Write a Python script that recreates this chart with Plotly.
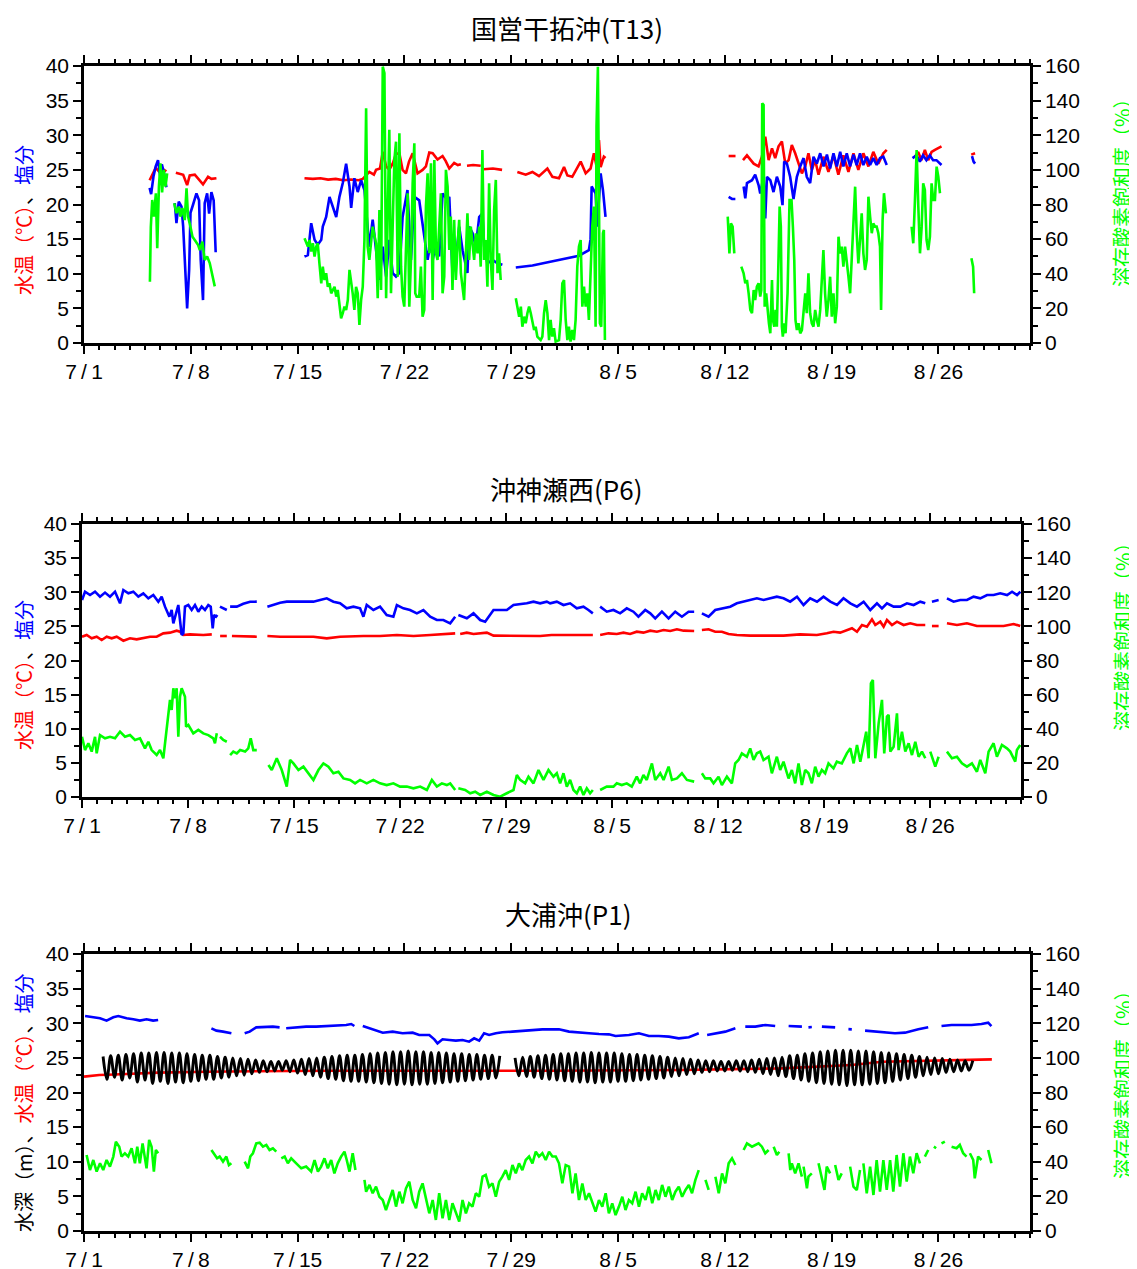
import plotly.graph_objects as go

# ---------------- data (x = days since 7/1) ----------------
week_ticks = [0, 7, 14, 21, 28, 35, 42, 49, 56]
week_labels = ["7\u2009/\u20091", "7\u2009/\u20098", "7\u2009/\u200915", "7\u2009/\u200922", "7\u2009/\u200929",
               "8\u2009/\u20095", "8\u2009/\u200912", "8\u2009/\u200919", "8\u2009/\u200926"]

# ---- 国営干拓沖(T13) ----
t13_temp = [(4.3,23.5),(4.5,24.5),(4.7,25.3),(4.9,24.8),(5.1,25.2),(5.4,24.8), None,
    (6.02,24.6),(6.5,24.3),(6.76,22.8),(6.93,24.2),(7.26,24.3),(7.6,23.5),(7.8,22.9),(8.13,24.0),(8.35,23.7),(8.68,23.8), None,
    (14.45,23.8),(15.0,23.7),(15.5,23.8),(16.0,23.6),(16.5,23.7),(17.0,23.5),(17.5,23.6),(18.0,23.5),(18.27,23.7),(18.5,24.2),
    (18.7,24.7),(19.0,24.3),(19.14,25.0),(19.4,25.2),(19.58,27.6),(19.8,25.5),(20.01,25.0),(20.25,26.0),(20.45,27.3),(20.67,27.4),
    (20.88,25.0),(21.1,24.5),(21.3,26.2),(21.54,27.4),(21.86,24.5),(22.19,25.0),(22.41,25.5),(22.63,27.5),(22.85,27.4),(23.17,26.5),
    (23.5,27.0),(23.7,26.3),(23.94,25.2),(24.26,26.0),(24.5,25.7),(24.7,25.8), None,
    (25.1,25.6),(25.5,25.7),(26.0,25.6), None, (26.2,25.1),(26.8,25.2),(27.4,25.0), None,
    (28.4,24.7),(28.95,24.3),(29.39,24.7),(29.82,24.1),(30.37,25.2),(30.7,24.0),(31.13,23.8),(31.46,25.4),(31.68,24.2),(32.0,24.0),
    (32.55,26.2),(32.88,24.5),(33.2,25.2),(33.42,27.4),(33.64,25.0),(33.75,29.3),(33.86,25.4),(34.07,26.9),(34.18,26.7), None,
    (42.25,27.0),(42.7,27.0), None,
    (43.19,26.4),(43.45,27.1),(43.89,25.9),(44.21,25.5),(44.43,26.9),(44.65,29.8),(44.87,26.4),(45.09,28.1),(45.3,26.7),(45.52,28.4),
    (45.74,29.1),(45.96,25.9),(46.18,26.4),(46.39,28.6),(46.61,27.4),(46.83,25.9),(47.05,24.5),(47.27,25.5),(47.48,27.4),(47.7,25.0),
    (47.92,26.4),(48.14,24.3),(48.46,26.9),(48.79,24.7),(49.12,27.1),(49.44,24.3),(49.77,27.1),(50.1,24.7),(50.43,27.4),(50.75,25.0),
    (51.08,27.4),(51.41,25.5),(51.73,27.6),(52.06,25.9),(52.39,27.4),(52.61,27.9), None,
    (54.46,26.9),(54.67,27.6),(54.89,26.4),(55.11,27.9),(55.33,26.4),(55.55,27.6),(55.77,27.9),(56.2,28.4), None,
    (58.15,27.2),(58.4,27.4)]

t13_sal = [(4.3,22.4),(4.4,21.5),(4.55,24.0),(4.7,25.5),(4.85,26.4),(5.0,24.0),(5.1,25.8),(5.25,24.5),(5.4,22.5), None,
    (5.95,20.2),(6.06,17.3),(6.21,20.4),(6.39,19.7),(6.5,16.8),(6.56,14.4),(6.76,5.0),(6.89,10.5),(6.98,18.8),(7.15,20.0),
    (7.37,21.6),(7.54,20.6),(7.65,12.0),(7.8,6.2),(7.91,20.2),(8.07,21.6),(8.2,18.7),(8.35,21.8),(8.5,20.6),(8.63,13.1), None,
    (14.45,12.5),(14.67,12.7),(14.89,17.3),(15.11,14.9),(15.32,14.2),(15.55,14.9),(15.65,16.8),(15.87,18.2),(16.09,21.1),(16.3,19.7),
    (16.53,18.2),(16.74,21.1),(16.96,23.1),(17.18,25.9),(17.4,22.6),(17.51,19.5),(17.72,23.8),(17.94,21.8),(18.16,23.5),(18.38,22.1),
    (18.59,16.8),(18.7,13.9),(18.92,17.8),(19.14,13.0),(19.36,9.1),(19.58,13.9),(19.8,9.6),(20.01,14.9),(20.23,10.1),(20.45,9.6),
    (20.67,10.1),(20.88,18.2),(21.2,22.1),(21.43,12.0),(21.65,21.1),(21.97,20.6),(22.19,17.3),(22.52,12.0),(22.74,14.9),(22.85,12.0),
    (23.07,14.4),(23.28,12.5),(23.5,21.6),(23.83,20.6),(23.94,21.1),(24.15,10.1),(24.38,12.0),(24.59,16.8),(24.81,13.4),(25.13,10.1),
    (25.24,16.8),(25.46,15.9),(25.68,13.9),(25.9,18.2),(26.11,18.7),(26.23,13.9),(26.44,11.5),(26.77,12.0),(27.1,11.5),(27.42,11.3), None,
    (28.3,10.9),(29.39,11.2),(30.48,11.7),(31.57,12.2),(32.44,12.6),(33.09,13.4),(33.2,15.0),(33.27,22.6),(33.53,21.6),(33.64,16.8),
    (33.86,24.5),(34.01,22.1),(34.18,18.2), None,
    (42.25,21.1),(42.47,20.8),(42.69,20.8), None,
    (43.23,22.6),(43.34,20.9),(43.45,23.1),(43.78,23.5),(43.99,24.3),(44.21,22.8),(44.32,21.6),(44.54,24.0),(44.65,18.0),(44.76,24.0),
    (44.98,23.5),(45.19,21.8),(45.41,24.0),(45.63,22.6),(45.78,19.9),(45.89,26.2),(46.07,25.9),(46.28,24.0),(46.5,20.8),(46.72,24.0),
    (46.94,25.5),(47.16,26.7),(47.37,24.0),(47.59,23.1),(47.81,26.9),(48.03,25.9),(48.25,27.4),(48.47,25.5),(48.69,27.2),(48.9,25.2),
    (49.12,27.4),(49.34,25.5),(49.56,27.6),(49.77,25.5),(49.99,27.4),(50.21,25.5),(50.43,27.2),(50.64,25.7),(50.86,27.4),(51.08,25.7),
    (51.3,26.9),(51.52,25.7),(51.73,26.7),(51.95,25.7),(52.17,26.7),(52.39,26.9),(52.61,25.7), None,
    (54.3,26.7),(54.56,27.1),(54.78,26.2),(54.99,27.1),(55.21,26.4),(55.43,27.1),(55.65,26.4),(55.87,26.4),(56.2,25.7), None,
    (58.2,27.0),(58.3,26.2),(58.4,25.9)]

t13_do = [(4.32,35.4),(4.38,67.0),(4.47,82.6),(4.58,73.0),(4.71,86.5),(4.8,54.7),(4.91,90.3),(5.01,103.8),(5.12,87.0),(5.23,100.0),(5.34,90.3),(5.45,98.0), None,
    (5.91,80.7),(6.06,75.0),(6.21,78.7),(6.32,73.0),(6.45,78.0),(6.6,71.0),(6.72,89.4),(6.82,73.0),(6.98,67.0),(7.11,61.4),
    (7.26,59.5),(7.48,56.6),(7.59,53.7),(7.76,58.5),(7.91,48.0),(8.07,50.0),(8.24,46.2),(8.39,40.3),(8.5,36.5),(8.57,32.7), None,
    (14.45,60.5),(14.56,58.5),(14.67,55.7),(14.78,59.5),(14.89,52.8),(15.0,57.6),(15.11,49.9),(15.22,55.7),(15.32,57.6),(15.43,46.0),
    (15.55,34.5),(15.65,44.1),(15.76,36.4),(15.87,40.3),(15.98,32.5),(16.09,34.5),(16.2,28.7),(16.42,32.5),(16.53,26.8),(16.63,30.6),
    (16.74,21.0),(16.85,14.3),(16.96,17.2),(17.07,21.0),(17.18,19.1),(17.29,24.8),(17.4,42.2),(17.51,36.4),(17.61,28.7),(17.72,19.1),
    (17.83,32.5),(17.94,28.7),(18.05,10.4),(18.16,24.8),(18.27,32.5),(18.38,59.5),(18.49,135.6),(18.59,55.7),(18.7,48.0),(18.92,67.2),
    (19.14,57.6),(19.25,25.8),(19.36,76.8),(19.47,30.6),(19.58,159.6),(19.69,155.8),(19.8,25.8),(20.01,123.1),(20.12,28.7),(20.34,105.7),
    (20.45,116.3),(20.56,38.3),(20.67,121.1),(20.78,44.1),(20.88,26.8),(20.99,21.0),(21.1,51.8),(21.21,86.5),(21.32,21.0),(21.43,48.0),
    (21.54,92.2),(21.65,115.4),(21.71,28.7),(21.8,26.8),(21.97,26.8),(22.08,44.1),(22.19,15.2),(22.3,19.1),(22.41,78.8),(22.52,98.0),
    (22.63,51.8),(22.74,103.8),(22.85,24.8),(22.96,105.7),(23.07,51.8),(23.17,48.0),(23.39,86.5),(23.5,28.7),(23.61,38.3),(23.72,100.0),
    (23.83,90.3),(23.94,53.7),(24.04,73.0),(24.15,30.6),(24.26,71.1),(24.37,36.4),(24.48,55.7),(24.59,71.1),(24.7,40.3),(24.91,24.8),
    (25.13,74.9),(25.24,48.0),(25.35,67.2),(25.46,55.7),(25.57,48.0),(25.68,63.4),(25.79,51.8),(25.9,67.2),(26.0,44.1),(26.11,111.5),
    (26.22,48.0),(26.33,59.5),(26.44,32.5),(26.55,92.2),(26.66,48.0),(26.77,30.6),(26.88,76.8),(26.99,94.2),(27.1,40.3),(27.2,51.8),(27.31,36.4), None,
    (28.3,25.8),(28.41,19.1),(28.52,15.2),(28.63,21.0),(28.73,9.4),(28.84,15.2),(28.95,11.4),(29.06,17.2),(29.17,21.0),(29.28,17.2),
    (29.39,11.4),(29.5,7.5),(29.6,9.4),(29.71,3.7),(29.93,1.7),(30.04,3.7),(30.15,17.2),(30.26,24.8),(30.37,17.2),(30.48,1.7),
    (30.58,13.3),(30.69,3.7),(30.8,8.5),(30.91,0.8),(31.13,1.7),(31.24,13.3),(31.35,34.5),(31.46,36.4),(31.57,13.3),(31.68,1.7),
    (31.78,9.4),(31.89,0.8),(32.0,7.5),(32.11,1.7),(32.22,13.3),(32.33,44.1),(32.44,55.7),(32.55,59.5),(32.66,21.0),(32.77,32.5),
    (32.88,21.0),(32.99,28.7),(33.09,13.3),(33.2,40.3),(33.31,67.2),(33.42,78.8),(33.53,9.4),(33.59,125.0),(33.68,159.6),(33.75,86.5),
    (33.81,11.4),(33.9,9.4),(34.01,63.4),(34.07,65.3),(34.14,1.7), None,
    (42.19,73.0),(42.3,51.8),(42.4,69.1),(42.51,67.2),(42.62,51.8), None,
    (43.08,44.1),(43.23,40.3),(43.34,34.5),(43.45,36.4),(43.56,28.7),(43.67,19.1),(43.78,17.2),(43.89,30.6),(43.99,24.8),(44.1,32.5),
    (44.21,34.5),(44.32,26.8),(44.39,30.6),(44.45,138.5),(44.54,137.5),(44.61,21.0),(44.71,28.7),(44.8,19.1),(44.89,11.4),(44.98,5.6),
    (45.09,36.4),(45.15,13.3),(45.24,9.4),(45.32,19.1),(45.41,9.4),(45.52,49.9),(45.59,78.8),(45.67,67.2),(45.74,9.4),(45.8,3.7),
    (45.89,11.4),(45.98,5.6),(46.11,28.7),(46.24,82.6),(46.37,82.6),(46.46,67.2),(46.55,48.0),(46.63,13.3),(46.72,7.5),(46.83,11.4),
    (46.94,5.6),(47.05,7.5),(47.16,17.2),(47.27,28.7),(47.37,17.2),(47.48,40.3),(47.59,17.2),(47.7,11.4),(47.81,9.4),(47.92,19.1),
    (48.03,13.3),(48.14,9.4),(48.25,19.1),(48.36,38.3),(48.46,53.7),(48.57,28.7),(48.68,15.2),(48.79,24.8),(48.9,38.3),(49.01,15.2),
    (49.12,28.7),(49.23,11.4),(49.34,21.0),(49.45,61.4),(49.55,51.8),(49.66,55.7),(49.77,44.1),(49.88,55.7),(49.99,48.0),(50.1,38.3),
    (50.21,28.7),(50.32,48.0),(50.43,67.2),(50.54,90.3),(50.64,63.4),(50.75,46.0),(50.86,59.5),(50.97,74.9),(51.08,51.8),(51.19,42.2),
    (51.3,48.0),(51.41,84.5),(51.52,73.0),(51.63,63.4),(51.73,69.1),(51.84,67.2),(51.95,67.2),(52.06,63.4),(52.17,55.7),(52.24,19.1),
    (52.34,71.1),(52.43,86.5),(52.56,74.9), None,
    (54.24,67.2),(54.35,57.6),(54.46,82.6),(54.57,111.5),(54.68,78.8),(54.79,51.8),(54.9,67.2),(55.0,92.2),(55.11,88.4),(55.22,59.5),
    (55.33,53.7),(55.44,61.4),(55.55,92.2),(55.66,82.6),(55.77,82.6),(55.88,101.9),(55.99,96.1),(56.1,86.5), None,
    (58.16,48.9),(58.27,44.1),(58.34,28.7)]

# ---- 沖神瀬西(P6) ----
p6_temp = [(0.0,23.49),(0.31,23.74),(0.64,23.25),(0.97,23.49),(1.3,23.0),(1.63,23.49),(1.96,23.25),(2.29,23.49),(2.73,22.9),
    (3.17,23.25),(3.61,23.1),(4.05,23.25),(4.49,23.49),(4.93,23.49),(5.37,23.98),(5.81,24.08),(6.25,24.37),(6.47,24.22),(6.69,23.74),
    (7.13,23.83),(7.57,23.74),(8.01,23.74),(8.57,23.83), None, (9.12,23.59),(9.56,23.59), None, (9.9,23.59),(10.44,23.59),(10.88,23.49),
    (11.54,23.49), None, (12.24,23.59),(13.08,23.49),(14.18,23.49),(15.28,23.49),(16.16,23.25),(17.04,23.49),(18.58,23.59),(19.68,23.59),
    (20.79,23.74),(21.89,23.59),(22.99,23.74),(24.09,23.88),(24.64,23.98), None, (24.97,23.88),(25.41,24.08),(25.85,23.88),(26.29,23.98),
    (26.73,24.08),(27.17,23.64),(28.49,23.64),(30.25,23.59),(31.0,23.74),(32.23,23.74),(33.73,23.74), None,
    (34.21,23.74),(34.76,23.98),(35.31,23.88),(35.75,24.08),(36.19,23.88),(36.63,24.22),(37.07,24.08),(37.52,24.37),(37.96,24.22),
    (38.4,24.47),(38.84,24.32),(39.28,24.57),(39.72,24.37),(40.42,24.32), None,
    (40.93,24.47),(41.37,24.57),(41.81,24.22),(42.25,24.22),(42.69,23.88),(43.24,23.74),(44.12,23.64),(45.22,23.64),(46.32,23.64),
    (47.42,23.83),(48.52,23.74),(49.18,23.98),(49.62,24.22),(50.06,24.08),(50.5,24.47),(50.84,24.72),(51.17,24.22),(51.5,25.2),
    (51.83,24.96),(52.16,26.03),(52.38,25.2),(52.71,25.69),(52.93,24.96),(53.15,25.93),(53.48,25.2),(53.81,25.69),(54.25,25.2),
    (54.69,25.45),(55.13,25.2),(55.68,25.2), None, (56.12,25.05),(56.56,25.05), None,
    (57.11,25.45),(57.77,25.2),(58.43,25.45),(59.09,25.05),(59.97,25.05),(60.85,25.05),(61.51,25.35),(61.95,25.05)]

p6_sal = [(0.0,28.86),(0.2,30.08),(0.53,29.6),(0.86,30.08),(1.19,29.35),(1.52,29.95),(1.85,29.35),(2.18,30.08),(2.51,28.38),
    (2.73,30.33),(3.06,29.84),(3.39,30.08),(3.72,29.35),(4.05,29.84),(4.38,29.11),(4.71,29.6),(5.04,28.62),(5.26,29.35),(5.48,27.89),
    (5.64,26.91),(5.77,26.42),(5.92,27.4),(6.03,25.45),(6.21,26.91),(6.36,28.13),(6.47,25.93),(6.58,23.74),(6.69,23.98),(6.8,27.89),
    (7.02,28.13),(7.24,27.4),(7.46,28.13),(7.68,27.15),(7.9,27.89),(8.12,27.4),(8.34,28.13),(8.5,27.89),(8.63,24.72),(8.72,26.67),
    (8.85,26.42),(8.94,26.67), None, (9.11,27.89),(9.33,27.6),(9.56,27.4), None,
    (9.78,27.89),(10.22,27.9),(10.65,28.3),(11.1,28.6),(11.54,28.62), None,
    (12.24,27.89),(12.64,28.13),(13.08,28.47),(13.52,28.62),(14.4,28.62),(15.28,28.62),(15.72,28.86),(16.16,29.11),(16.6,28.62),
    (17.04,28.38),(17.48,27.64),(17.92,27.89),(18.36,27.64),(18.58,26.42),(18.8,28.13),(19.24,27.4),(19.68,27.89),(20.12,26.67),
    (20.56,26.42),(20.79,28.13),(21.22,27.64),(21.66,27.4),(22.11,26.91),(22.54,27.4),(22.99,26.42),(23.43,25.93),(23.86,25.93),
    (24.31,25.45),(24.64,26.42), None,
    (24.85,26.67),(25.41,26.18),(25.85,26.91),(26.29,25.93),(26.62,25.69),(26.84,26.42),(27.17,27.4),(28.05,27.4),(28.49,28.13),
    (29.37,28.38),(29.81,28.62),(30.25,28.38),(30.69,28.62),(30.91,28.38),(31.35,28.62),(31.79,28.13),(32.23,28.38),(32.67,27.64),
    (33.11,27.89),(33.44,27.4),(33.73,26.91), None,
    (34.21,27.89),(34.65,27.15),(35.09,27.4),(35.53,26.91),(35.97,27.64),(36.41,27.15),(36.74,26.42),(37.19,27.4),(37.52,26.91),
    (37.85,26.18),(38.29,27.15),(38.73,26.18),(39.17,27.15),(39.61,26.42),(40.05,27.15),(40.42,27.15), None,
    (40.93,26.91),(41.37,26.42),(41.81,27.4),(42.36,27.64),(42.8,27.89),(43.24,28.38),(43.68,28.62),(44.12,28.86),(44.56,29.11),
    (45.0,28.86),(45.44,29.11),(45.88,29.35),(46.32,29.11),(46.76,28.62),(47.21,29.35),(47.64,28.13),(48.08,29.11),(48.53,28.62),
    (48.96,29.35),(49.41,28.62),(49.85,28.13),(50.28,29.11),(50.73,28.38),(51.17,27.89),(51.61,28.62),(52.05,27.4),(52.49,28.38),
    (52.82,27.64),(53.15,28.38),(53.59,27.89),(54.03,27.89),(54.47,28.38),(54.91,28.13),(55.35,28.62),(55.68,28.38), None,
    (56.12,28.62),(56.56,28.86), None,
    (57.11,29.11),(57.55,28.62),(57.99,28.86),(58.43,28.86),(58.87,29.35),(59.31,29.11),(59.76,29.6),(60.19,29.6),(60.63,29.84),
    (61.08,29.6),(61.41,30.08),(61.74,29.6),(61.96,30.08)]

p6_do = [(0.0,35.3),(0.2,27.5),(0.42,31.5),(0.64,26.6),(0.86,35.3),(0.97,25.6),(1.19,36.3),(1.52,34.4),(1.85,35.3),(2.18,34.4),
    (2.51,38.3),(2.84,35.3),(3.17,36.3),(3.5,33.4),(3.83,34.4),(4.16,28.5),(4.38,32.4),(4.6,27.5),(4.93,24.6),(5.15,27.5),(5.37,22.7),
    (5.55,37.3),(5.7,47.1),(5.81,56.9),(5.92,51.0),(6.03,63.7),(6.14,57.8),(6.25,63.7),(6.36,35.3),(6.47,58.8),(6.58,63.7),(6.69,60.8),
    (6.8,58.8),(6.87,41.2),(7.02,42.2),(7.35,37.3),(7.68,39.3),(8.01,37.3),(8.34,36.3),(8.67,34.4),(8.78,31.5),(8.9,37.3), None,
    (9.11,35.3),(9.33,33.4),(9.56,32.4), None,
    (9.78,24.6),(9.99,26.6),(10.22,25.6),(10.44,27.5),(10.77,26.6),(10.98,28.5),(11.14,34.4),(11.31,27.5),(11.54,27.5), None,
    (12.31,18.8),(12.53,15.8),(12.86,22.7),(13.19,15.8),(13.52,6.1),(13.74,21.7),(13.96,19.7),(14.29,15.8),(14.62,17.8),(14.95,13.9),
    (15.28,10.0),(15.61,15.8),(15.94,19.7),(16.27,17.8),(16.6,13.9),(16.93,14.8),(17.26,10.9),(17.7,10.0),(18.03,8.0),(18.36,10.0),
    (18.8,8.0),(19.24,10.0),(19.68,8.0),(20.12,7.0),(20.56,8.0),(21.0,6.1),(21.45,6.1),(21.88,5.1),(22.33,6.1),(22.77,4.1),(23.1,10.0),
    (23.43,6.1),(23.76,8.0),(24.09,7.0),(24.31,8.0),(24.64,4.1), None,
    (24.85,5.1),(25.3,4.1),(25.63,2.2),(25.96,3.1),(26.29,1.2),(26.73,3.1),(27.17,1.2),(27.61,0.2),(28.05,2.2),(28.49,4.1),(28.71,12.9),
    (28.93,10.0),(29.26,8.0),(29.48,11.9),(29.81,8.0),(30.14,15.8),(30.47,10.0),(30.8,15.8),(31.13,11.9),(31.35,13.9),(31.57,8.0),
    (31.79,13.9),(32.01,6.1),(32.23,10.0),(32.45,4.1),(32.67,2.2),(32.89,6.1),(33.11,1.2),(33.33,5.1),(33.55,2.2),(33.73,4.1), None,
    (34.21,4.1),(34.65,6.1),(35.09,6.1),(35.31,8.0),(35.64,7.0),(35.97,8.0),(36.3,6.1),(36.63,11.9),(36.85,8.0),(37.07,12.9),(37.29,10.0),
    (37.52,15.8),(37.63,19.7),(37.85,10.0),(38.18,13.9),(38.4,10.0),(38.73,17.8),(38.95,10.0),(39.28,10.9),(39.61,13.9),(39.94,10.0),
    (40.42,9.0), None,
    (40.93,13.9),(41.15,10.9),(41.48,10.9),(41.7,8.0),(42.03,11.9),(42.25,7.0),(42.58,11.9),(42.91,8.0),(43.13,19.7),(43.35,21.7),
    (43.57,25.6),(43.9,23.6),(44.12,28.5),(44.34,21.7),(44.56,25.6),(44.78,26.6),(45.0,21.7),(45.33,23.6),(45.55,13.9),(45.88,23.6),
    (46.1,15.8),(46.32,20.7),(46.65,10.9),(46.87,15.8),(47.09,8.0),(47.31,19.7),(47.53,7.0),(47.75,15.8),(47.97,13.9),(48.19,8.0),
    (48.41,17.8),(48.63,11.9),(48.85,15.8),(49.07,13.9),(49.29,19.7),(49.62,16.8),(49.84,20.7),(50.17,19.7),(50.5,25.6),(50.73,28.5),
    (50.95,19.7),(51.17,30.5),(51.39,20.7),(51.61,31.5),(51.78,38.3),(51.94,22.7),(52.09,66.6),(52.22,68.6),(52.38,22.7),(52.6,43.2),
    (52.82,56.9),(52.97,25.6),(53.15,47.1),(53.26,48.1),(53.37,26.6),(53.59,29.5),(53.81,49.0),(53.92,27.5),(54.14,38.3),(54.36,26.6),
    (54.58,31.5),(54.8,24.6),(55.02,32.4),(55.24,23.6),(55.46,26.6),(55.68,22.7), None,
    (56.01,26.6),(56.34,17.8),(56.56,23.6), None,
    (57.11,26.6),(57.44,22.7),(57.77,23.6),(58.1,19.7),(58.43,17.8),(58.76,19.7),(59.09,14.8),(59.31,21.7),(59.64,13.9),(59.86,26.6),
    (60.19,31.5),(60.41,23.6),(60.74,30.5),(61.07,28.5),(61.29,26.6),(61.62,20.7),(61.73,27.5),(61.95,30.5)]

# ---- 大浦沖(P1) ----
p1_temp = [(0.0,22.29),(1.0,22.53),(2.0,22.6),(3.0,22.7),(4.86,22.87),(8.0,23.0),(12.0,23.1),(16.0,23.15),(20.0,23.15),
    (24.0,23.2),(28.0,23.15),(30.48,23.15),(39.2,23.25),(45.7,23.49),(50.3,23.97),(52.3,24.45),(56.6,24.7),(59.5,24.79)]

p1_sal = [(0.07,31.05),(0.61,30.86),(1.05,30.71),(1.48,30.38),(1.92,30.86),(2.25,31.05),(2.79,30.71),(3.23,30.57),(3.66,30.38),
    (4.1,30.57),(4.53,30.38),(4.86,30.47), None,
    (8.35,29.27),(8.68,28.93),(9.11,28.79),(9.66,28.55), None,
    (10.53,28.55),(10.86,28.79),(11.29,29.41),(11.95,29.51),(12.38,29.51),(12.82,29.41), None,
    (13.25,29.27),(13.91,29.41),(14.56,29.51),(15.22,29.51),(15.87,29.6),(16.52,29.6),(17.18,29.75),(17.51,29.89),(17.72,29.6), None,
    (18.27,29.6),(18.7,29.27),(19.14,29.03),(19.58,28.64),(20.23,28.79),(20.88,28.55),(21.54,28.64),(21.97,28.31),(22.63,28.31),
    (22.96,27.68),(23.17,27.1),(23.5,27.68),(23.94,27.58),(24.37,27.49),(24.81,27.58),(25.24,27.34),(25.57,27.82),(25.9,27.49),
    (26.22,28.55),(26.55,28.31),(26.99,28.55),(27.42,28.69),(28.08,28.79),(28.73,28.93),(29.39,29.03),(30.04,29.12),(30.48,29.12),
    (31.13,29.12),(31.79,28.79),(32.44,28.64),(33.1,28.55),(33.75,28.45),(34.4,28.4),(34.84,28.16),(35.71,28.31),(36.37,28.55),
    (37.02,28.16),(37.67,28.16),(38.33,28.07),(38.98,27.82),(39.64,27.97),(40.29,28.55), None,
    (40.84,28.31),(41.38,28.55),(42.03,28.79),(42.69,29.27), None,
    (43.34,29.51),(44.0,29.51),(44.65,29.75),(45.3,29.6), None, (46.18,29.6),(47.05,29.51), None, (47.48,29.41),(47.7,29.45), None,
    (48.36,29.51),(49.23,29.41), None, (50.1,29.15),(50.32,29.12), None,
    (51.19,28.93),(51.84,28.79),(52.5,28.64),(53.15,28.55),(53.81,28.64),(54.24,28.93),(54.68,29.12),(55.33,29.41), None,
    (56.2,29.6),(56.86,29.75),(57.51,29.75),(58.17,29.75),(58.82,29.89),(59.26,30.09),(59.47,29.6)]

# water depth (tidal high / low readings every quarter day)
p1_depth_start1 = 1.25
p1_depth_1 = [25.2,21.9,25.3,22.2, 25.4,21.8,25.5,22.1, 25.6,21.5,25.7,21.8, 25.7,21.3,25.8,21.6, 25.8,21.3,25.7,21.5,
    25.7,21.4,25.6,21.6, 25.5,21.7,25.4,21.9, 25.4,21.9,25.2,22.1, 25.1,22.2,25.0,22.4, 24.9,22.5,24.8,22.7,
    24.7,22.9,24.6,23.0, 24.5,23.1,24.5,23.2, 24.6,23.0,24.7,22.8, 24.8,22.6,24.9,22.4, 25.0,22.2,25.1,22.0,
    25.2,21.9,25.3,21.7, 25.4,21.6,25.4,21.6, 25.5,21.5,25.6,21.4, 25.7,21.3,25.8,21.2, 25.9,21.1,25.9,21.2,
    26.0,21.1,25.9,21.2, 25.9,21.2,25.8,21.3, 25.8,21.4,25.7,21.5, 25.6,21.6,25.6,21.7, 25.5,21.8,25.5,21.9,
    25.4,22.0,25.4,22.1, 25.3]
p1_depth_start2 = 28.25
p1_depth_2 = [25.0,22.4,25.1,22.3, 25.2,22.2,25.3,22.0, 25.4,21.9,25.5,21.8, 25.6,21.7,25.6,21.6, 25.7,21.5,25.7,21.5,
    25.8,21.4,25.7,21.5, 25.7,21.5,25.7,21.6, 25.6,21.6,25.5,21.7, 25.5,21.8,25.4,21.9, 25.3,22.0,25.2,22.1,
    25.1,22.3,25.0,22.4, 24.9,22.6,24.8,22.7, 24.7,22.9,24.6,23.0, 24.6,23.1,24.5,23.1, 24.5,23.2,24.6,23.1,
    24.6,23.0,24.7,22.9, 24.8,22.7,24.9,22.6, 25.0,22.4,25.1,22.3, 25.3,22.0,25.4,21.8, 25.6,21.6,25.7,21.4,
    25.9,21.3,26.0,21.2, 26.1,21.1,26.1,21.0, 26.1,21.1,26.0,21.1, 26.0,21.2,25.9,21.3, 25.8,21.4,25.7,21.6,
    25.6,21.8,25.5,22.0, 25.4,22.2,25.2,22.4, 25.1,22.6,25.0,22.7, 24.9,22.9,24.8,23.0, 24.7,23.1,24.6,23.2, 24.6]

p1_do = [(0.17,43.9),(0.39,35.2),(0.61,41.0),(0.83,34.3),(1.05,39.1),(1.26,35.2),(1.48,41.0),(1.7,37.2),(1.92,43.0),(2.09,51.6),
    (2.31,48.7),(2.46,43.0),(2.68,44.9),(2.9,43.0),(3.12,47.8),(3.34,39.1),(3.49,48.7),(3.66,39.1),(3.84,50.6),(3.99,41.0),(4.1,36.2),
    (4.27,52.6),(4.43,48.7),(4.58,34.3),(4.71,46.8),(4.86,44.9), None,
    (8.35,46.8),(8.57,43.9),(8.72,42.0),(8.89,43.0),(9.11,40.1),(9.33,43.0),(9.5,38.1),(9.66,39.1), None,
    (10.53,40.1),(10.75,36.2),(10.9,43.0),(11.07,44.9),(11.29,50.6),(11.51,51.0),(11.73,48.7),(11.95,49.7),(12.16,46.8),(12.38,47.8),
    (12.6,45.8), None,
    (12.93,42.0),(13.15,43.0),(13.36,39.1),(13.58,42.0),(13.91,39.1),(14.24,36.2),(14.56,37.2),(14.89,34.3),(15.11,41.0),(15.33,34.3),
    (15.54,37.2),(15.76,42.0),(15.98,36.2),(16.2,41.0),(16.41,33.3),(16.63,39.1),(16.85,43.0),(17.07,45.8),(17.22,41.0),(17.4,34.3),
    (17.61,44.9),(17.79,35.2), None,
    (18.38,29.5),(18.49,22.7),(18.71,26.6),(18.92,21.8),(19.14,25.6),(19.36,19.8),(19.58,17.9),(19.79,12.1),(20.01,17.9),(20.23,23.7),
    (20.45,14.1),(20.67,22.7),(20.88,16.0),(21.1,24.6),(21.32,28.5),(21.54,17.9),(21.76,13.1),(21.97,22.7),(22.19,27.5),(22.41,17.9),
    (22.63,10.2),(22.85,17.9),(23.06,6.4),(23.28,21.8),(23.5,7.3),(23.72,17.9),(23.94,6.4),(24.15,16.0),(24.37,10.2),(24.59,5.4),
    (24.81,17.9),(25.03,10.2),(25.24,16.0),(25.46,14.1),(25.68,21.8),(25.9,19.8),(26.12,31.4),(26.33,32.4),(26.55,25.6),(26.77,27.5),
    (26.99,19.8),(27.21,28.5),(27.42,31.4),(27.64,35.2),(27.86,29.5),(28.08,38.1),(28.3,33.3),(28.51,39.1),(28.73,35.2),(28.95,41.0),
    (29.17,43.0),(29.39,39.1),(29.61,45.8),(29.82,43.0),(30.04,44.9),(30.26,41.0),(30.48,45.8),(30.7,43.0),(30.92,43.0),(31.13,39.1),
    (31.35,27.5),(31.57,38.1),(31.79,37.2),(32.01,21.8),(32.22,33.3),(32.44,17.9),(32.66,27.5),(32.88,17.9),(33.1,21.8),(33.31,16.0),
    (33.53,11.2),(33.75,17.9),(33.97,14.1),(34.19,21.8),(34.4,10.2),(34.62,16.0),(34.84,9.2),(35.06,14.1),(35.28,19.8),(35.49,12.1),
    (35.71,17.9),(35.93,16.0),(36.15,22.7),(36.37,14.1),(36.58,21.8),(36.8,17.9),(37.02,25.6),(37.24,16.0),(37.46,23.7),(37.67,17.9),
    (37.89,26.6),(38.11,19.8),(38.33,25.6),(38.55,17.9),(38.76,22.7),(38.98,25.6),(39.2,19.8),(39.42,23.7),(39.64,26.6),(39.85,21.8),
    (40.07,29.5),(40.29,35.2), None,
    (40.73,29.5),(40.94,23.7), None,
    (41.38,31.4),(41.6,21.8),(41.82,33.3),(42.03,27.5),(42.25,39.1),(42.47,42.0),(42.69,38.1), None,
    (43.23,46.8),(43.45,50.6),(43.78,48.7),(44.21,50.6),(44.43,48.7),(44.65,44.9),(44.87,46.8), None,
    (45.2,48.7),(45.41,43.9),(45.57,45.8), None,
    (46.18,44.9),(46.29,35.2),(46.39,39.1),(46.61,33.3),(46.83,39.1),(47.05,31.4), None,
    (47.16,37.2),(47.38,24.6),(47.48,31.4),(47.7,33.3), None,
    (48.14,39.1),(48.36,29.5),(48.53,23.7),(48.68,37.2),(48.9,33.3), None,
    (49.23,38.1),(49.45,29.5),(49.66,33.3), None,
    (50.21,37.2),(50.43,25.6),(50.65,23.7),(50.86,35.2), None,
    (51.08,39.1),(51.3,21.8),(51.52,37.2),(51.74,20.8),(51.95,41.0),(52.17,22.7),(52.39,41.0),(52.61,23.7),(52.83,41.0),(53.04,22.7),
    (53.26,43.9),(53.48,25.6),(53.7,44.9),(53.92,28.5),(54.13,43.0),(54.35,33.3),(54.57,44.9),(54.79,39.1), None,
    (55.11,43.0),(55.33,46.8), None, (55.7,48.7),(55.85,47.8), None, (56.2,50.6),(56.42,51.6), None,
    (56.86,48.7),(57.19,47.8),(57.4,49.7),(57.62,44.9),(57.84,43.0), None,
    (58.06,44.9),(58.28,41.0),(58.38,30.4),(58.6,43.0),(58.82,41.0), None,
    (59.26,46.8),(59.47,39.1)]

titles = ["国営干拓沖(T13)", "沖神瀬西(P6)", "大浦沖(P1)"]

# ---------------- helpers ----------------
def split(pairs):
    xs, ys = [], []
    for p in pairs:
        if p is None:
            xs.append(None); ys.append(None)
        else:
            xs.append(p[0]); ys.append(p[1])
    return xs, ys

W, H = 1137, 1269
OFF = 8  # page body margin in the browser
def fx(px): return (px - OFF) / W
def fy(py): return 1 - (py - OFF) / H

RED, BLUE, GREEN, BLACK = "#ff0000", "#0000ff", "#00ff00", "#000000"
TICKFONT = dict(family="Liberation Sans, DejaVu Sans", size=21, color="black")
CJK = "Noto Sans CJK JP"
LW = 2.6

fig = go.Figure()

# panel geometry in page pixels: (x0, x1, ytop, ybottom)
panels = [(84, 1030, 66, 343), (82, 1021, 524, 797), (84, 1030, 954, 1231)]

def add_line(pairs, color, xa, ya, shape="linear", width=LW):
    xs, ys = split(pairs)
    fig.add_trace(go.Scatter(x=xs, y=ys, mode="lines", line=dict(color=color, width=width, shape=shape),
                             connectgaps=False, xaxis=xa, yaxis=ya, showlegend=False, hoverinfo="skip"))

# panel 1
add_line(t13_temp, RED, "x", "y")
add_line(t13_sal, BLUE, "x", "y")
add_line(t13_do, GREEN, "x", "y2")
# panel 2
add_line(p6_temp, RED, "x2", "y3")
add_line(p6_sal, BLUE, "x2", "y3")
add_line(p6_do, GREEN, "x2", "y4")
# panel 3
add_line(p1_temp, RED, "x3", "y5")
add_line(p1_sal, BLUE, "x3", "y5")
d1 = [(p1_depth_start1 + 0.25 * i, v) for i, v in enumerate(p1_depth_1)]
d2 = [(p1_depth_start2 + 0.25 * i, v) for i, v in enumerate(p1_depth_2)]
add_line(d1 + [None] + d2, BLACK, "x3", "y5", shape="spline", width=2.9)
add_line(p1_do, GREEN, "x3", "y6")

layout = dict(width=W, height=H, margin=dict(l=0, r=0, t=0, b=0, pad=0),
              paper_bgcolor="white", plot_bgcolor="white", showlegend=False)

for i, (x0, x1, yt, yb) in enumerate(panels):
    n = i + 1
    xk = "xaxis" if n == 1 else f"xaxis{n}"
    yl = 2 * i + 1
    yr = 2 * i + 2
    ylk = "yaxis" if yl == 1 else f"yaxis{yl}"
    yrk = f"yaxis{yr}"
    xname = "x" if n == 1 else f"x{n}"
    ylname = "y" if yl == 1 else f"y{yl}"
    layout[xk] = dict(domain=[fx(x0), fx(x1)], anchor=ylname, range=[0, 62],
                      tickmode="array", tickvals=week_ticks, ticktext=week_labels,
                      ticks="outside", ticklen=8, tickwidth=2, tickcolor="black",
                      showline=True, linewidth=2.5, linecolor="black", mirror="ticks",
                      minor=dict(tickmode="linear", tick0=0, dtick=1, ticks="outside", ticklen=4,
                                 tickwidth=2, tickcolor="black", showgrid=False),
                      showgrid=False, zeroline=False, tickfont=TICKFONT, automargin=False,
                      fixedrange=True)
    layout[ylk] = dict(domain=[fy(yb), fy(yt)], anchor=xname, range=[0, 40],
                       tickmode="linear", tick0=0, dtick=5,
                       ticks="outside", ticklen=8, tickwidth=2, tickcolor="black",
                       showline=True, linewidth=2.5, linecolor="black", mirror=False,
                       minor=dict(tickmode="linear", tick0=0, dtick=2.5, ticks="outside", ticklen=5,
                                  tickwidth=2, tickcolor="black", showgrid=False),
                       showgrid=False, zeroline=False, tickfont=TICKFONT, automargin=False,
                       fixedrange=True)
    layout[yrk] = dict(domain=[fy(yb), fy(yt)], anchor=xname, overlaying=ylname, side="right",
                       range=[0, 160], tickmode="linear", tick0=0, dtick=20,
                       ticks="outside", ticklen=8, tickwidth=2, tickcolor="black",
                       showline=True, linewidth=2.5, linecolor="black",
                       minor=dict(tickmode="linear", tick0=0, dtick=10, ticks="outside", ticklen=5,
                                  tickwidth=2, tickcolor="black", showgrid=False),
                       showgrid=False, zeroline=False, tickfont=TICKFONT, automargin=False,
                       fixedrange=True)

fig.update_layout(**layout)

ann = []
title_pos = [(567, 27), (566, 488), (568, 913)]
for t, (px, py) in zip(titles, title_pos):
    ann.append(dict(text=t, x=fx(px), y=fy(py), xref="paper", yref="paper", showarrow=False,
                    xanchor="center", yanchor="middle", font=dict(family=CJK, size=26, color="black")))

left_std = ('<span style="color:#ff0000">水温（℃）</span>'
            '<span style="color:#000000">、</span>'
            '<span style="color:#0000ff">塩分</span>')
left_p1 = ('<span style="color:#000000">水深（m）、</span>'
           '<span style="color:#ff0000">水温（℃）</span>'
           '<span style="color:#000000">、</span>'
           '<span style="color:#0000ff">塩分</span>')
left_titles = [(left_std, 220), (left_std, 675), (left_p1, 1103)]
for txt, py in left_titles:
    ann.append(dict(text=txt, x=fx(23), y=fy(py), xref="paper", yref="paper", showarrow=False,
                    textangle=-90, xanchor="center", yanchor="middle",
                    font=dict(family=CJK, size=20, color="black")))
for py in [188, 632, 1080]:
    ann.append(dict(text="溶存酸素飽和度（%）", x=fx(1122), y=fy(py), xref="paper", yref="paper",
                    showarrow=False, textangle=-90, xanchor="center", yanchor="middle",
                    font=dict(family=CJK, size=20, color=GREEN)))
fig.update_layout(annotations=ann)

fig.write_html("out.html")
